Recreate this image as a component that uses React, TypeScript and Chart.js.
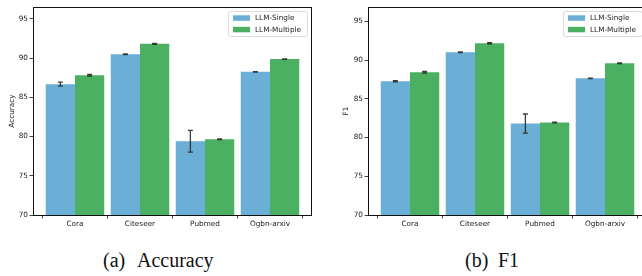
import React, { useEffect, useRef } from "react";
import { Chart, registerables } from "chart.js";

Chart.register(...registerables);

const categories = ["Cora", "Citeseer", "Pubmed", "Ogbn-arxiv"];
const seriesNames = ["LLM-Single", "LLM-Multiple"];
const yTicks = [70, 75, 80, 85, 90, 95];

const accSingle = [86.67, 90.49, 79.4, 88.24];
const accSingleErr = [0.25, 0.05, 1.38, 0.03];
const accMultiple = [87.81, 91.81, 79.65, 89.86];
const accMultipleErr = [0.1, 0.06, 0.05, 0.04];

const f1Single = [87.26, 91.02, 81.81, 87.65];
const f1SingleErr = [0.08, 0.05, 1.23, 0.03];
const f1Multiple = [88.43, 92.19, 81.94, 89.59];
const f1MultipleErr = [0.1, 0.08, 0.05, 0.04];

const BLUE = "rgb(107,174,214)";
const GREEN = "rgb(76,176,98)";
const FONT = "'DejaVu Sans', sans-serif";
const TXT = "#222";

const framePlugin = {
  id: "frame",
  afterDatasetsDraw(chart: any) {
    const { ctx } = chart;
    const y = chart.scales.y;
    // error bars
    chart.data.datasets.forEach((ds: any, i: number) => {
      const meta = chart.getDatasetMeta(i);
      meta.data.forEach((el: any, j: number) => {
        const v = ds.data[j].y;
        const e = ds.errorBars[j];
        const y1 = y.getPixelForValue(v + e);
        const y2 = y.getPixelForValue(v - e);
        ctx.save();
        ctx.strokeStyle = "rgba(40,40,40,0.9)";
        ctx.lineWidth = 1.3;
        ctx.beginPath();
        ctx.moveTo(el.x, y1);
        ctx.lineTo(el.x, y2);
        ctx.moveTo(el.x - 2.5, y1);
        ctx.lineTo(el.x + 2.5, y1);
        ctx.moveTo(el.x - 2.5, y2);
        ctx.lineTo(el.x + 2.5, y2);
        ctx.stroke();
        ctx.restore();
      });
    });
  },
  afterDraw(chart: any) {
    const { ctx, chartArea: a } = chart;
    ctx.save();
    ctx.strokeStyle = "#111";
    ctx.lineWidth = 1;
    ctx.strokeRect(Math.round(a.left) + 0.5, Math.round(a.top) + 0.5, Math.round(a.right - a.left) - 1, Math.round(a.bottom - a.top));
    // legend
    const bw = 79;
    const bh = 25;
    const bx = a.right - 5 - bw;
    const by = a.top + 4;
    ctx.fillStyle = "rgba(255,255,255,0.85)";
    ctx.strokeStyle = "#d0d0d0";
    ctx.lineWidth = 0.8;
    ctx.beginPath();
    ctx.roundRect(bx + 0.5, by + 0.5, bw, bh, 2);
    ctx.fill();
    ctx.stroke();
    ctx.font = `7.3px ${FONT}`;
    ctx.textBaseline = "middle";
    chart.data.datasets.forEach((ds: any, i: number) => {
      const cy = by + 7 + i * 11.5;
      ctx.fillStyle = ds.backgroundColor;
      ctx.fillRect(bx + 5, cy - 2.7, 17, 5.5);
      ctx.fillStyle = TXT;
      ctx.fillText(ds.label, bx + 27, cy + 0.3);
    });
    ctx.restore();
  },
};

type PanelProps = {
  single: number[];
  singleErr: number[];
  multiple: number[];
  multipleErr: number[];
  yTitle: string;
  yMax: number;
  titlePad: number;
  axisWidth: number;
  padRight: number;
  left: number;
  width: number;
};

function Panel(p: PanelProps) {
  const ref = useRef<HTMLCanvasElement>(null);
  useEffect(() => {
    const chart = new Chart(ref.current!, {
      type: "bar",
      data: {
        datasets: [
          {
            label: seriesNames[0],
            data: categories.map((_, i) => ({ x: i, y: p.single[i] })),
            backgroundColor: BLUE,
            errorBars: p.singleErr,
          } as any,
          {
            label: seriesNames[1],
            data: categories.map((_, i) => ({ x: i, y: p.multiple[i] })),
            backgroundColor: GREEN,
            errorBars: p.multipleErr,
          } as any,
        ],
      },
      options: {
        animation: false,
        responsive: false,
        maintainAspectRatio: false,
        devicePixelRatio: 1,
        layout: { padding: { left: 0, right: p.padRight, top: 7, bottom: 0 } },
        datasets: { bar: { categoryPercentage: 0.9, barPercentage: 1.0 } },
        plugins: { legend: { display: false }, tooltip: { enabled: false } },
        scales: {
          x: {
            type: "linear",
            min: -0.646,
            max: 3.646,
            offset: false,
            afterBuildTicks: (s: any) => {
              s.ticks = categories.map((_, i) => ({ value: i }));
            },
            afterFit: (s: any) => {
              s.height = 25;
            },
            grid: { drawOnChartArea: false, drawTicks: true, tickLength: 3.5, tickColor: "#111", tickWidth: 0.8 },
            border: { display: false },
            ticks: {
              autoSkip: false,
              maxRotation: 0,
              padding: 1.5,
              color: TXT,
              font: { family: FONT, size: 7.3 },
              callback: (v: any) => categories[v],
            },
          },
          y: {
            type: "linear",
            min: 70,
            max: p.yMax,
            afterBuildTicks: (s: any) => {
              s.ticks = yTicks.map((v) => ({ value: v }));
            },
            afterFit: (s: any) => {
              s.width = p.axisWidth;
            },
            grid: { drawOnChartArea: false, drawTicks: true, tickLength: 3.5, tickColor: "#111", tickWidth: 0.8 },
            border: { display: false },
            ticks: {
              padding: 1.5,
              color: TXT,
              font: { family: FONT, size: 7.3 },
            },
            title: {
              display: true,
              text: p.yTitle,
              color: TXT,
              font: { family: FONT, size: 7.3, lineHeight: 1.2 },
              padding: { top: p.titlePad, bottom: 0 },
            },
          },
        },
      } as any,
      plugins: [framePlugin],
    });
    return () => chart.destroy();
  }, []);
  return (
    <canvas
      ref={ref}
      width={p.width}
      height={240}
      style={{ position: "absolute", left: p.left, top: 0, width: p.width, height: 240 }}
    />
  );
}

const capStyle: React.CSSProperties = {
  position: "absolute",
  top: 250,
  fontFamily: "'Liberation Serif', 'Times New Roman', serif",
  fontSize: 20,
  lineHeight: "20px",
  color: "#111",
  whiteSpace: "nowrap",
};

export default function App() {
  return (
    <div
      style={{
        position: "absolute",
        left: 0,
        top: 0,
        width: 642,
        height: 276,
        overflow: "hidden",
        background: "#fff",
      }}
    >
      <Panel
        single={accSingle}
        singleErr={accSingleErr}
        multiple={accMultiple}
        multipleErr={accMultipleErr}
        yTitle="Accuracy"
        yMax={96.5}
        titlePad={7.6}
        axisWidth={33}
        padRight={9}
        left={0}
        width={321}
      />
      <Panel
        single={f1Single}
        singleErr={f1SingleErr}
        multiple={f1Multiple}
        multipleErr={f1MultipleErr}
        yTitle="F1"
        yMax={96.86}
        titlePad={20.6}
        axisWidth={47}
        padRight={4}
        left={321}
        width={330}
      />
      <div style={{ ...capStyle, left: 103 }}>(a)</div>
      <div style={{ ...capStyle, left: 137 }}>Accuracy</div>
      <div style={{ ...capStyle, left: 465 }}>(b)</div>
      <div style={{ ...capStyle, left: 498 }}>F1</div>
    </div>
  );
}
